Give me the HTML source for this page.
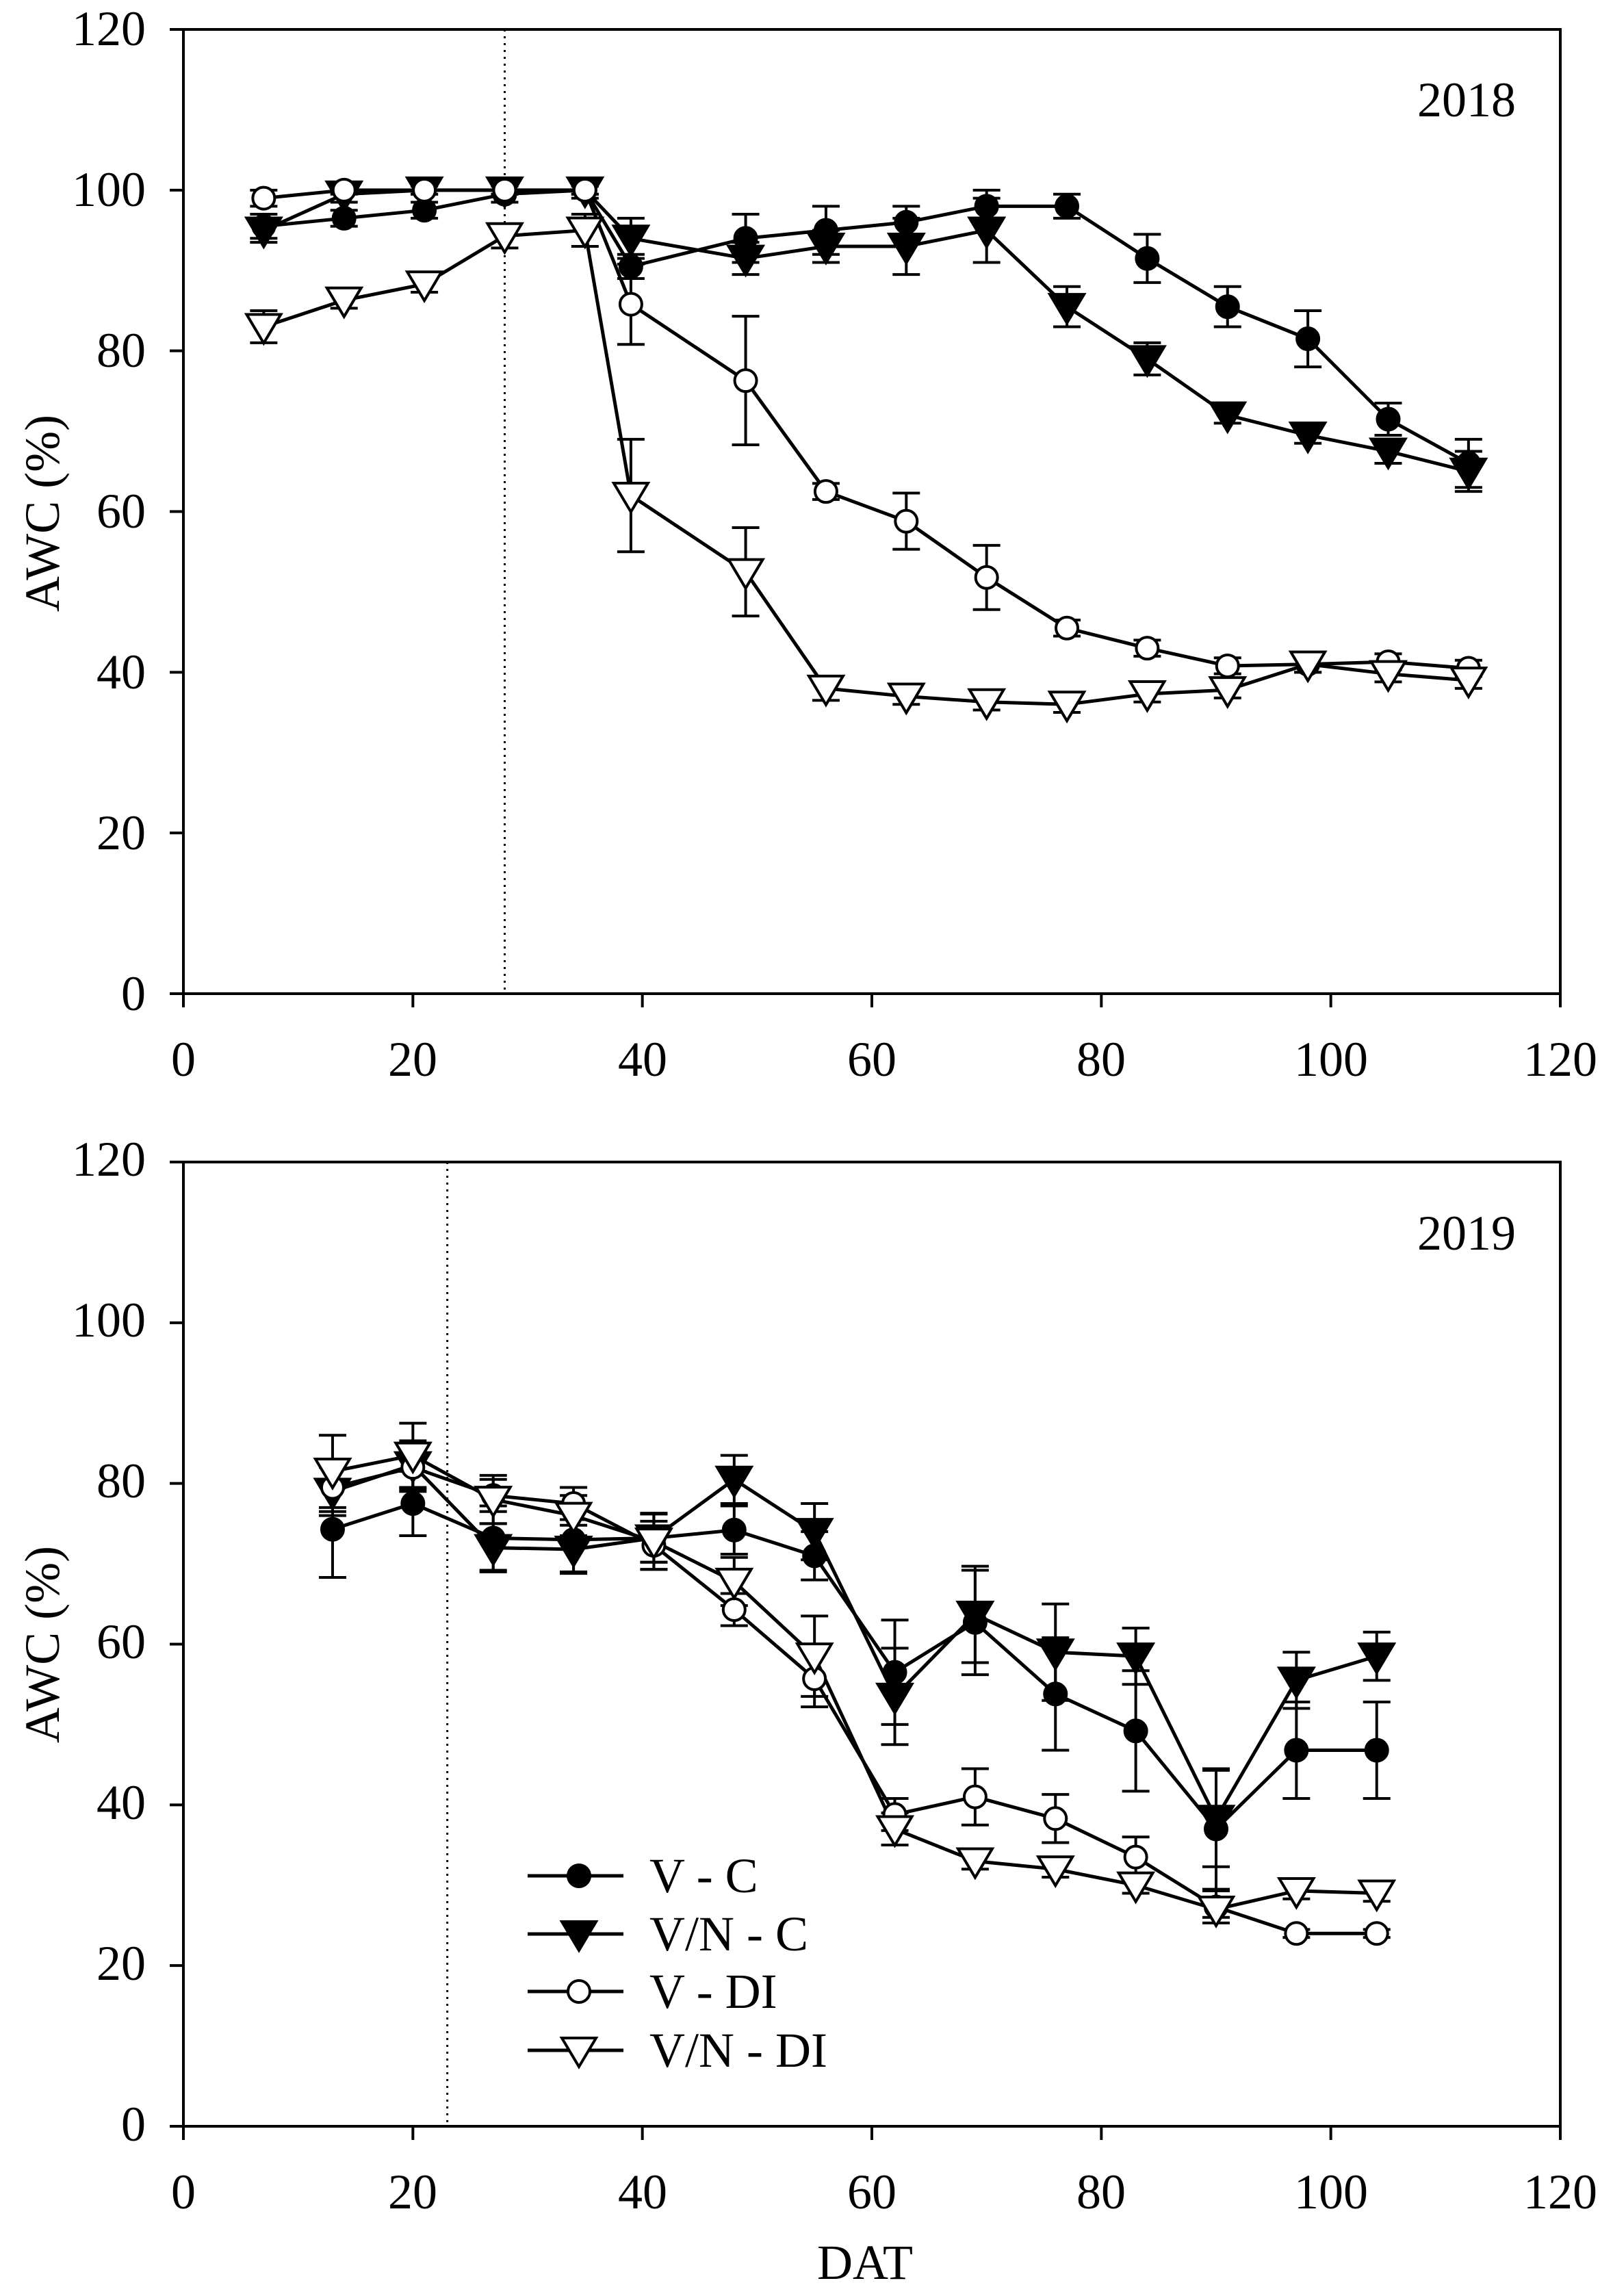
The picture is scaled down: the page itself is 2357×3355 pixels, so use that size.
<!DOCTYPE html>
<html><head><meta charset="utf-8"><style>
html,body{margin:0;padding:0;background:#fff}
svg{display:block}
text{font-family:"Liberation Serif","Times New Roman",Times,serif;fill:#000}
</style></head><body>
<svg id="s" width="2357" height="3355" viewBox="0 0 2357 3355" xmlns="http://www.w3.org/2000/svg" font-family="Liberation Serif, Times New Roman, serif">
<rect width="2357" height="3355" fill="#fff"/>
<g font-size="72">
<g text-anchor="end">
<text x="213" y="1476">0</text><text x="213" y="1241">20</text><text x="213" y="1006">40</text><text x="213" y="771">60</text><text x="213" y="536">80</text><text x="213" y="301">100</text><text x="213" y="66">120</text>
<text x="213" y="3128">0</text><text x="213" y="2893">20</text><text x="213" y="2658">40</text><text x="213" y="2423">60</text><text x="213" y="2188">80</text><text x="213" y="1953">100</text><text x="213" y="1718">120</text>
</g>
<g text-anchor="middle">
<text x="268" y="1572">0</text><text x="603" y="1572">20</text><text x="939" y="1572">40</text><text x="1274" y="1572">60</text><text x="1609" y="1572">80</text><text x="1945" y="1572">100</text><text x="2280" y="1572">120</text>
<text x="268" y="3227">0</text><text x="603" y="3227">20</text><text x="939" y="3227">40</text><text x="1274" y="3227">60</text><text x="1609" y="3227">80</text><text x="1945" y="3227">100</text><text x="2280" y="3227">120</text>
<text x="1264" y="3330">DAT</text>
</g>
<text x="2215" y="170" text-anchor="end">2018</text>
<text x="2215" y="1826" text-anchor="end">2019</text>
<text transform="translate(86,750) rotate(-90)" text-anchor="middle">AWC (%)</text>
<text transform="translate(86,2403) rotate(-90)" text-anchor="middle">AWC (%)</text>
<text x="949" y="2765">V - C</text>
<text x="949" y="2850">V/N - C</text>
<text x="949" y="2934">V - DI</text>
<text x="949" y="3020">V/N - DI</text>
</g>
<g id="g"></g>
</svg>
<script>
var NS="http://www.w3.org/2000/svg",g=document.getElementById('g');
function el(t,a){var e=document.createElementNS(NS,t);for(var k in a)e.setAttribute(k,a[k]);g.appendChild(e);return e;}
var X0=268,XS=(2280-268)/120;
function panel(top,bot){
 var ys=(bot-top)/120;
 el('rect',{x:268,y:top,width:2012,height:bot-top,fill:'none',stroke:'#000','stroke-width':4});
 for(var i=0;i<=6;i++){var y=bot-i*20*ys;el('line',{x1:248,y1:y,x2:268,y2:y,stroke:'#000','stroke-width':4});
  var x=X0+i*20*XS;el('line',{x1:x,y1:bot,x2:x,y2:bot+20,stroke:'#000','stroke-width':4});}
 return function(v){return bot-v*ys;};
}
function marker(t,x,y){
 var f=(t==0||t==1)?'#000':'#fff';
 if(t==0||t==2)el('circle',{cx:x,cy:y,r:16,fill:f,stroke:'#000','stroke-width':4});
 else el('polygon',{points:(x-25)+','+(y-18)+' '+(x+25)+','+(y-18)+' '+x+','+(y+24),fill:f,stroke:'#000','stroke-width':4});
}
function draw(Y,xs,ser){
 ser.forEach(function(s){var p=xs.map(function(x,i){return (X0+x*XS)+','+Y(s.v[i]);}).join(' ');
  el('polyline',{points:p,fill:'none',stroke:'#000','stroke-width':5});});
 ser.forEach(function(s){xs.forEach(function(x,i){var e=s.e[i];if(!e)return;var px=X0+x*XS,a=Y(s.v[i]+e),b=Y(s.v[i]-e);
  el('line',{x1:px,y1:a,x2:px,y2:b,stroke:'#000','stroke-width':4});
  el('line',{x1:px-20,y1:a,x2:px+20,y2:a,stroke:'#000','stroke-width':4});
  el('line',{x1:px-20,y1:b,x2:px+20,y2:b,stroke:'#000','stroke-width':4});});});
 ser.forEach(function(s,k){xs.forEach(function(x,i){marker(k,X0+x*XS,Y(s.v[i]));});});
}
var Y1=panel(43,1452);
el('line',{x1:X0+28*XS,y1:43,x2:X0+28*XS,y2:1452,stroke:'#000','stroke-width':3,'stroke-dasharray':'3,7'});
draw(Y1,[7,14,21,28,35,39,49,56,63,70,77,84,91,98,105,112],[
{v:[95.5,96.5,97.5,99.5,100,90.5,94,95,96,98,98,91.5,85.5,81.5,71.5,66],e:[1.5,1,1,1,1,1.5,3,3,2,2,1.5,3,2.5,3.5,2,3]},
{v:[95,99.5,100,100,100,94,91.5,93,93,95,85.5,79,72,69.5,67.5,65],e:[1.5,1,0.5,0.5,0.5,2.5,2,2,3.5,4,2.5,2,1,1,1.5,2.5]},
{v:[99,100,100,100,100,85.8,76.3,62.5,58.8,51.8,45.5,43,40.8,41,41.3,40.5],e:[1,0.5,0.5,0.5,0.5,5,8,1,3.5,4,1,1,1,1,1,1]},
{v:[83,86.3,88.3,94.3,95,62,52.5,38,37,36.3,36,37.3,37.8,41,39.8,39],e:[2,1,1,1.5,2,7,5.5,1.5,1,1,1,1,1,1,1,1]}]);
var Y2=panel(1698,3107);
el('line',{x1:X0+23*XS,y1:1698,x2:X0+23*XS,y2:3107,stroke:'#000','stroke-width':3,'stroke-dasharray':'3,7'});
draw(Y2,[13,20,27,34,41,48,55,62,69,76,83,90,97,104],[
{v:[74.3,77.5,73.2,73,73.2,74.2,71,56.5,62.7,53.8,49.2,37,46.8,46.8],e:[6,4,4,4,3,3,3,6.5,6.5,7,7.5,7.5,6,6]},
{v:[79,82.3,72,71.8,73.2,80.5,74,53.5,63.7,59,58.5,38.3,55.5,58.5],e:[3,3,3,3,3,3,3.5,6,6,6,3.5,6,3.5,3]},
{v:[79.5,82,78.5,77.5,72.3,64.3,55.7,38.8,41,38.3,33.5,27.3,24,24],e:[3,3,2,2,3,2,3.5,2,3.5,3,2.5,2,0.5,0.5]},
{v:[81.5,83.5,78,76,72.8,67.8,58.5,37,33,32,30,27,29.3,29],e:[4.5,4,3,2.5,3.5,3,5,2,1,1,1,1,1,1]}]);
[2741,2826,2910,2996].forEach(function(y,k){el('line',{x1:771,y1:y,x2:911,y2:y,stroke:'#000','stroke-width':5});marker(k,846,y);});
</script>
</body></html>
